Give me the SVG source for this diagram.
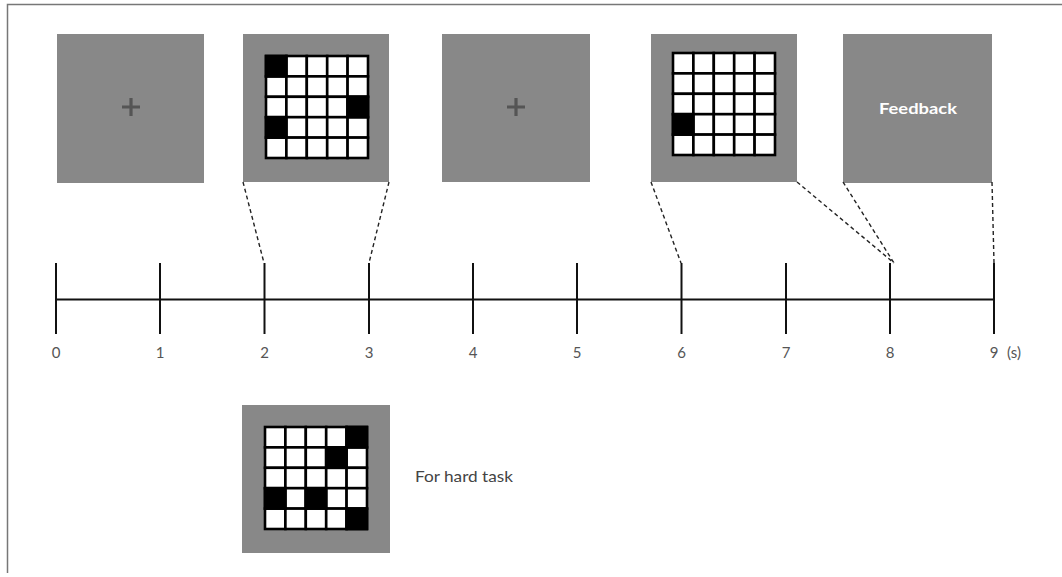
<svg xmlns="http://www.w3.org/2000/svg" width="1062" height="577" viewBox="0 0 1062 577">
<defs>
<style>
.panel{fill:#888888}
.cell{fill:#ffffff;stroke:#000;stroke-width:2.6}
.blk{fill:#000;stroke:#000;stroke-width:2.6}
.plus{stroke:#555;stroke-width:3.2;stroke-linecap:butt}
.tick{stroke:#111;stroke-width:2}
.dash{stroke:#222;stroke-width:1.4;stroke-dasharray:4 3;fill:none}
.lbl{font-family:"Lato","Liberation Sans",sans-serif;font-size:15px;fill:#555;text-anchor:middle}
</style>
<g id="grid5">
<rect class="cell" x="0" y="0" width="20.4" height="20.4"/><rect class="cell" x="20.4" y="0" width="20.4" height="20.4"/><rect class="cell" x="40.8" y="0" width="20.4" height="20.4"/><rect class="cell" x="61.2" y="0" width="20.4" height="20.4"/><rect class="cell" x="81.6" y="0" width="20.4" height="20.4"/>
<rect class="cell" x="0" y="20.4" width="20.4" height="20.4"/><rect class="cell" x="20.4" y="20.4" width="20.4" height="20.4"/><rect class="cell" x="40.8" y="20.4" width="20.4" height="20.4"/><rect class="cell" x="61.2" y="20.4" width="20.4" height="20.4"/><rect class="cell" x="81.6" y="20.4" width="20.4" height="20.4"/>
<rect class="cell" x="0" y="40.8" width="20.4" height="20.4"/><rect class="cell" x="20.4" y="40.8" width="20.4" height="20.4"/><rect class="cell" x="40.8" y="40.8" width="20.4" height="20.4"/><rect class="cell" x="61.2" y="40.8" width="20.4" height="20.4"/><rect class="cell" x="81.6" y="40.8" width="20.4" height="20.4"/>
<rect class="cell" x="0" y="61.2" width="20.4" height="20.4"/><rect class="cell" x="20.4" y="61.2" width="20.4" height="20.4"/><rect class="cell" x="40.8" y="61.2" width="20.4" height="20.4"/><rect class="cell" x="61.2" y="61.2" width="20.4" height="20.4"/><rect class="cell" x="81.6" y="61.2" width="20.4" height="20.4"/>
<rect class="cell" x="0" y="81.6" width="20.4" height="20.4"/><rect class="cell" x="20.4" y="81.6" width="20.4" height="20.4"/><rect class="cell" x="40.8" y="81.6" width="20.4" height="20.4"/><rect class="cell" x="61.2" y="81.6" width="20.4" height="20.4"/><rect class="cell" x="81.6" y="81.6" width="20.4" height="20.4"/>
</g>
</defs>
<rect width="1062" height="577" fill="#fff"/>
<path d="M1062 4.5H7.5V573" fill="none" stroke="#777" stroke-width="1.5"/>

<g id="panel-fixation1">
<rect class="panel" x="57" y="34" width="147" height="149"/>
<path class="plus" d="M122 107H140M131 98V116"/>
</g>

<g id="panel-memory">
<rect class="panel" x="243" y="34" width="146" height="148"/>
<g transform="translate(266,56)">
<use href="#grid5"/>
<rect class="blk" x="0" y="0" width="20.4" height="20.4"/>
<rect class="blk" x="81.6" y="40.8" width="20.4" height="20.4"/>
<rect class="blk" x="0" y="61.2" width="20.4" height="20.4"/>
</g>
</g>

<g id="panel-fixation2">
<rect class="panel" x="442" y="34" width="148" height="148"/>
<path class="plus" d="M507 107H525M516 98V116"/>
</g>

<g id="panel-probe">
<rect class="panel" x="651" y="34" width="146" height="148"/>
<g transform="translate(673,53)">
<use href="#grid5"/>
<rect class="blk" x="0" y="61.2" width="20.4" height="20.4"/>
</g>
</g>

<g id="panel-feedback">
<rect class="panel" x="843" y="34" width="149" height="149"/>
<text x="918" y="114" font-family="Lato,'Liberation Sans',sans-serif" font-size="15" font-weight="bold" fill="#fff" text-anchor="middle" textLength="78" lengthAdjust="spacingAndGlyphs">Feedback</text>
</g>

<g id="panel-hard">
<rect class="panel" x="242" y="405" width="148" height="148"/>
<g transform="translate(265,427)">
<use href="#grid5"/>
<rect class="blk" x="81.6" y="0" width="20.4" height="20.4"/>
<rect class="blk" x="61.2" y="20.4" width="20.4" height="20.4"/>
<rect class="blk" x="0" y="61.2" width="20.4" height="20.4"/>
<rect class="blk" x="40.8" y="61.2" width="20.4" height="20.4"/>
<rect class="blk" x="81.6" y="81.6" width="20.4" height="20.4"/>
</g>
<text x="415" y="482" font-family="Lato,'Liberation Sans',sans-serif" font-size="15" fill="#444" textLength="98" lengthAdjust="spacingAndGlyphs">For hard task</text>
</g>

<g id="timeline">
<line x1="56" y1="299.5" x2="994" y2="299.5" stroke="#111" stroke-width="2"/>
<line class="tick" x1="56" y1="263" x2="56" y2="334"/>
<line class="tick" x1="160" y1="263" x2="160" y2="334"/>
<line class="tick" x1="264.5" y1="263" x2="264.5" y2="334"/>
<line class="tick" x1="369" y1="263" x2="369" y2="334"/>
<line class="tick" x1="473" y1="263" x2="473" y2="334"/>
<line class="tick" x1="577" y1="263" x2="577" y2="334"/>
<line class="tick" x1="681.5" y1="263" x2="681.5" y2="334"/>
<line class="tick" x1="786" y1="263" x2="786" y2="334"/>
<line class="tick" x1="890" y1="263" x2="890" y2="334"/>
<line class="tick" x1="994" y1="263" x2="994" y2="334"/>
<text class="lbl" x="56" y="358">0</text>
<text class="lbl" x="160" y="358">1</text>
<text class="lbl" x="264.5" y="358">2</text>
<text class="lbl" x="369" y="358">3</text>
<text class="lbl" x="473" y="358">4</text>
<text class="lbl" x="577" y="358">5</text>
<text class="lbl" x="681.5" y="358">6</text>
<text class="lbl" x="786" y="358">7</text>
<text class="lbl" x="890" y="358">8</text>
<text class="lbl" x="994" y="358">9</text>
<text class="lbl" x="1014" y="358">(s)</text>
</g>

<g id="connectors">
<line class="dash" x1="243" y1="182" x2="264" y2="263"/>
<line class="dash" x1="389" y1="182" x2="369" y2="263"/>
<line class="dash" x1="651" y1="182" x2="681" y2="263"/>
<line class="dash" x1="797" y1="182" x2="894" y2="263"/>
<line class="dash" x1="843" y1="182" x2="894" y2="263"/>
<line class="dash" x1="992" y1="182" x2="994" y2="263"/>
</g>
</svg>
